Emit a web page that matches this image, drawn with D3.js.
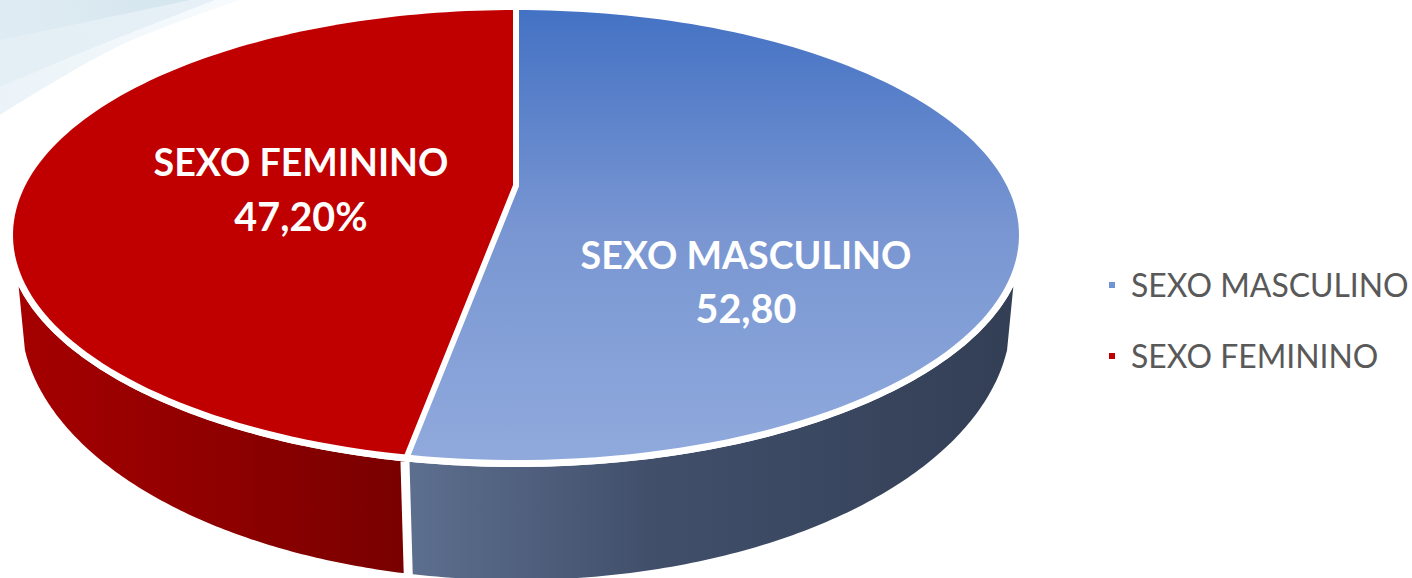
<!DOCTYPE html>
<html>
<head>
<meta charset="utf-8">
<script src="https://cdn.jsdelivr.net/npm/d3@7"></script>
<style>
  html, body { margin: 0; padding: 0; background: #fff; }
  svg { display: block; }
  text { font-family: Lato, "Open Sans", sans-serif; }
</style>
</head>
<body>
<div id="grafica"></div>
<script>
// Datos
const categorias = ["SEXO MASCULINO", "SEXO FEMININO"];
const valores = [52.8, 47.2];
const etiquetas = ["52,80", "47,20%"];

const ancho = 1412, alto = 578;

const svg = d3.select("#grafica").append("svg")
    .attr("width", ancho)
    .attr("height", alto);

const defs = svg.append("defs");

function gradiente(id, x1, y1, x2, y2, stops) {
  const g = defs.append("linearGradient").attr("id", id)
      .attr("gradientUnits", "userSpaceOnUse")
      .attr("x1", x1).attr("y1", y1).attr("x2", x2).attr("y2", y2);
  stops.forEach(s => g.append("stop").attr("offset", s[0]).attr("stop-color", s[1]));
}
gradiente("topAzul", 0, 10, 0, 450, [[0, "#4472c4"], [0.5, "#7996d2"], [1, "#8fa9dc"]]);
gradiente("paredAzul", 410, 0, 1010, 0, [[0, "#5d6f8f"], [0.4, "#414f6b"], [1, "#333f55"]]);
gradiente("paredRoja", 20, 0, 405, 0, [[0, "#a50000"], [1, "#790000"]]);
gradiente("fondo1", 0, 60, 190, 0, [[0, "#e0ecf3"], [1, "#d5e6ee"]]);
gradiente("fondo2", 0, 90, 210, 0, [[0, "#e3eef5"], [1, "#e6f0f6"]]);
gradiente("fondo3", 0, 115, 240, 0, [[0, "#eaf3f8"], [1, "#f7fbfd"]]);

// Decoración del fondo, esquina superior izquierda
const lineaFondo = d3.line().curve(d3.curveCatmullRom);
function capaFondo(puntos, fill) {
  svg.append("path")
      .attr("d", lineaFondo(puntos) + "L0,0Z")
      .attr("fill", fill);
}
capaFondo([[0, 115], [117, 47], [240, 0]], "url(#fondo3)");
capaFondo([[0, 87], [100, 45], [215, 0]], "url(#fondo2)");
capaFondo([[0, 40], [143, 10], [190, 0]], "url(#fondo1)");

// Elipse superior, su contorno blanco y elipse inferior (perspectiva)
const tapa = {cx: 516, cy: 235, rx: 503, ry: 225};
const aro = {cx: 516, cy: 235, rx: 510, ry: 232};
const base = {cx: 516, cy: 317, rx: 495, ry: 263};
const desplaza = -0.219;  // el centro del pie no cae en el centro de la elipse

const escala = e => ({
  x: d3.scaleLinear().domain([-1, 1]).range([e.cx - e.rx, e.cx + e.rx]),
  y: d3.scaleLinear().domain([-1, 1]).range([e.cy - e.ry, e.cy + e.ry])
});
const escTapa = escala(tapa), escAro = escala(aro), escBase = escala(base);

// angulo (0 arriba, sentido horario) -> punto sobre el disco en perspectiva
function proyecta(a, r, esc) {
  const u = r * Math.sin(a), v = -r * Math.cos(a);
  const k = 1 + desplaza * v;
  return [esc.x(u * Math.sqrt(1 - desplaza * desplaza) / k), esc.y((v + desplaza) / k)];
}

const pie = d3.pie().sort(null).value(d => d);
const arcos = pie(valores);
const linea = d3.line();

function puntosArco(a0, a1, esc) {
  return d3.range(0, 121).map(i => proyecta(a0 + (a1 - a0) * i / 120, 1, esc));
}

// Paredes laterales: solo la parte frontal que se ve
const corteAro = Math.PI * 0.638, corteBase = Math.PI * 0.609;

function pared(a0, a1, b0, b1, fill) {
  const p = puntosArco(a0, a1, escAro).concat(puntosArco(b1, b0, escBase));
  svg.append("path")
      .attr("d", linea(p) + "Z")
      .attr("fill", fill);
}
pared(corteAro, arcos[0].endAngle, corteBase, arcos[0].endAngle, "url(#paredAzul)");
pared(arcos[1].startAngle, 2 * Math.PI - corteAro, arcos[1].startAngle, 2 * Math.PI - corteBase, "url(#paredRoja)");

// Separación blanca entre las dos paredes
const juntaA = proyecta(arcos[1].startAngle, 1, escAro);
const juntaB = proyecta(arcos[1].startAngle, 1, escBase);
svg.append("line")
    .attr("x1", juntaA[0]).attr("y1", juntaA[1])
    .attr("x2", juntaA[0] + (juntaB[0] - juntaA[0]) * 1.1)
    .attr("y2", juntaA[1] + (juntaB[1] - juntaA[1]) * 1.1)
    .attr("stroke", "#fff")
    .attr("stroke-width", 9);

// Aro blanco que separa la tapa de las paredes
svg.append("path")
    .attr("d", linea(puntosArco(0, 2 * Math.PI, escAro)) + "Z")
    .attr("fill", "#fff");

// Tapas
const rellenos = ["url(#topAzul)", "#c00000"];
arcos.forEach((d, i) => {
  const p = [proyecta(0, 0, escTapa)].concat(puntosArco(d.startAngle, d.endAngle, escTapa));
  svg.append("path")
      .attr("d", linea(p) + "Z")
      .attr("fill", rellenos[i]);
});

// Radios blancos entre sectores
svg.append("path")
    .attr("d", linea([
      proyecta(arcos[0].startAngle, 1, escAro),
      proyecta(0, 0, escTapa),
      proyecta(arcos[0].endAngle, 1, escAro)
    ]))
    .attr("fill", "none")
    .attr("stroke", "#fff")
    .attr("stroke-width", 6)
    .attr("stroke-linejoin", "miter");

// Etiquetas
const posEtiquetas = [[746, 269, 323], [301, 176, 231]];
categorias.forEach((c, i) => {
  const t = svg.append("text")
      .attr("text-anchor", "middle")
      .attr("fill", "#fff")
      .attr("font-weight", 700);
  t.append("tspan").attr("x", posEtiquetas[i][0]).attr("y", posEtiquetas[i][1])
      .attr("font-size", 37.6).text(c);
  t.append("tspan").attr("x", posEtiquetas[i][0]).attr("y", posEtiquetas[i][2])
      .attr("font-size", 39.5).text(etiquetas[i]);
});

// Leyenda
const coloresLeyenda = ["#6f94d6", "#c00000"];
const yLeyenda = d3.scalePoint().domain(categorias).range([285, 356]);
const leyenda = svg.append("g").selectAll("g").data(categorias).join("g")
    .attr("transform", d => `translate(0,${yLeyenda(d)})`);
leyenda.append("rect")
    .attr("x", 1109).attr("y", -3).attr("width", 6).attr("height", 6)
    .attr("fill", (d, i) => coloresLeyenda[i]);
leyenda.append("text")
    .attr("x", 1131).attr("y", 11.5)
    .attr("fill", "#595959")
    .attr("font-size", 31.9)
    .text(d => d);
</script>
</body>
</html>
